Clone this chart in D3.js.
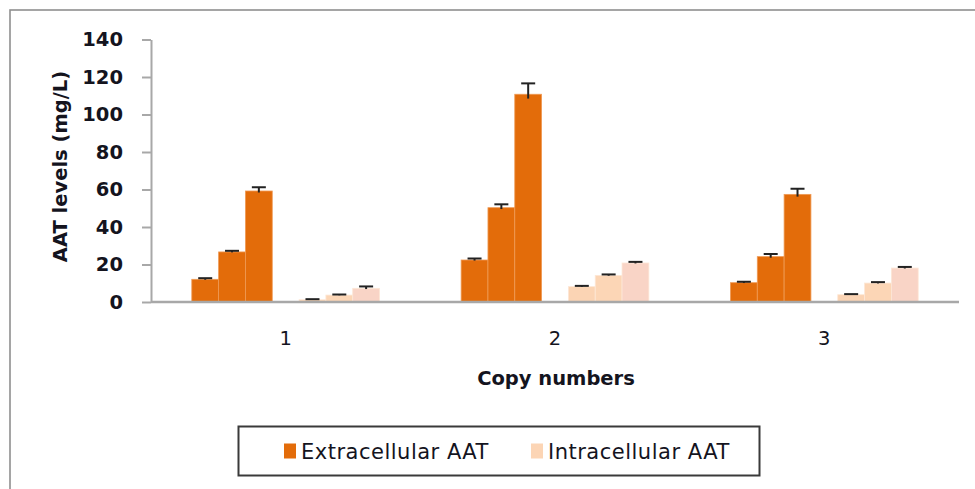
<!DOCTYPE html>
<html>
<head>
<meta charset="utf-8">
<script src="https://cdn.jsdelivr.net/npm/d3@7"></script>
<style>
  html, body { margin: 0; padding: 0; background: #fff; }
  svg { display: block; }
  text { font-family: "DejaVu Sans", sans-serif; fill: #14141e; }
</style>
</head>
<body>
<svg id="chart" width="975" height="489"></svg>
<script>
// ---- data ----
const categories = ["1", "2", "3"];
const seriesNames = ["Extracellular AAT", "Intracellular AAT"];
const extracellular = [[12.1, 26.7, 59.2], [22.4, 50.3, 110.8], [10.3, 24.2, 57.4]];
const extracellularErr = [[0.6, 0.6, 2.0], [0.8, 1.8, 5.8], [0.5, 1.4, 3.0]];
const intracellular = [[1.2, 3.7, 7.3], [8.2, 14.2, 20.8], [3.9, 10.1, 18.1]];
const intracellularErr = [[0.3, 0.3, 1.0], [0.4, 0.5, 0.6], [0.3, 0.5, 0.6]];
const yTicks = [0, 20, 40, 60, 80, 100, 120, 140];

// ---- styles ----
const orange = "#E36C0A";
const peach = ["#FBD4B4", "#FCD6B6", "#F9D4C6"];
const legendColors = [orange, "#FCD5B5"];

const svg = d3.select("#chart");

// outer border
svg.append("rect").attr("x", 10).attr("y", 10).attr("width", 1000).attr("height", 600)
  .attr("fill", "none").attr("stroke", "#8f8f8f").attr("stroke-width", 1.6);

const x0 = d3.scaleBand().domain(categories).range([151, 959]).padding(0);
const bw = x0.bandwidth();
const slots = d3.range(7);
const x1 = d3.scaleBand().domain(slots).range([bw * 0.1515, bw * (1 - 0.1515)]).padding(0);
const y = d3.scaleLinear().domain([0, 140]).range([302, 39.5]);

// build flat bar table
const bars = [];
categories.forEach((c, ci) => {
  extracellular[ci].forEach((v, k) => bars.push({c, slot: k, v, e: extracellularErr[ci][k], fill: orange, stroke: "#ef9a55"}));
  intracellular[ci].forEach((v, k) => bars.push({c, slot: k + 4, v, e: intracellularErr[ci][k], fill: peach[k], stroke: "#fde7d6"}));
});

// y axis
const yAxis = d3.axisLeft(y).tickValues(yTicks).tickSize(9).tickPadding(19).tickSizeOuter(0);
const gy = svg.append("g").attr("transform", "translate(151,0)").call(yAxis);
gy.select(".domain").attr("stroke", "#a8a8a8").attr("stroke-width", 2);
gy.selectAll(".tick line").attr("stroke", "#a8a8a8").attr("stroke-width", 2);
gy.selectAll(".tick text").style("font-size", "19.5px").style("font-weight", "bold")
  .attr("fill", "#14141e").attr("font-family", "DejaVu Sans");

// bars
const gb = svg.append("g");
gb.selectAll("rect").data(bars).join("rect")
  .attr("x", d => x0(d.c) + x1(d.slot))
  .attr("y", d => y(d.v))
  .attr("width", x1.bandwidth())
  .attr("height", d => y(0) - y(d.v))
  .attr("fill", d => d.fill)
  .attr("stroke", d => d.stroke)
  .attr("stroke-width", 0.8);

// x axis line
svg.append("line").attr("x1", 151).attr("x2", 959).attr("y1", y(0)).attr("y2", y(0))
  .attr("stroke", "#a8a8a8").attr("stroke-width", 2.5);

// error bars
const ge = svg.append("g").attr("stroke", "#222").attr("stroke-width", 2);
bars.forEach(d => {
  const cx = x0(d.c) + x1(d.slot) + x1.bandwidth() / 2;
  ge.append("line").attr("x1", cx).attr("x2", cx).attr("y1", y(d.v - d.e * 0.4)).attr("y2", y(d.v + d.e));
  ge.append("line").attr("x1", cx - 7).attr("x2", cx + 7).attr("y1", y(d.v + d.e)).attr("y2", y(d.v + d.e));
});

// category labels
svg.append("g").selectAll("text").data(categories).join("text")
  .attr("x", d => x0(d) + bw / 2).attr("y", 345)
  .attr("text-anchor", "middle").style("font-size", "19.5px").text(d => d);

// axis titles
svg.append("text").attr("x", 556).attr("y", 385).attr("text-anchor", "middle")
  .style("font-size", "19.5px").style("font-weight", "bold").text("Copy numbers");
svg.append("text").attr("transform", "translate(66.5,166.5) rotate(-90)").attr("text-anchor", "middle")
  .style("font-size", "19.5px").style("font-weight", "bold").text("AAT levels (mg/L)");

// legend
const lg = svg.append("g");
lg.append("rect").attr("x", 238.5).attr("y", 426.5).attr("width", 521).attr("height", 49)
  .attr("fill", "#fff").attr("stroke", "#3a3a3a").attr("stroke-width", 2);
const legendPos = [{sx: 284, tx: 301}, {sx: 531, tx: 548}];
seriesNames.forEach((n, i) => {
  lg.append("rect").attr("x", legendPos[i].sx).attr("y", 443.5).attr("width", 12).attr("height", 15)
    .attr("fill", legendColors[i]);
  lg.append("text").attr("x", legendPos[i].tx).attr("y", 458.5).style("font-size", "21px")
    .style("letter-spacing", "0.5px").text(n);
});
</script>
</body>
</html>
